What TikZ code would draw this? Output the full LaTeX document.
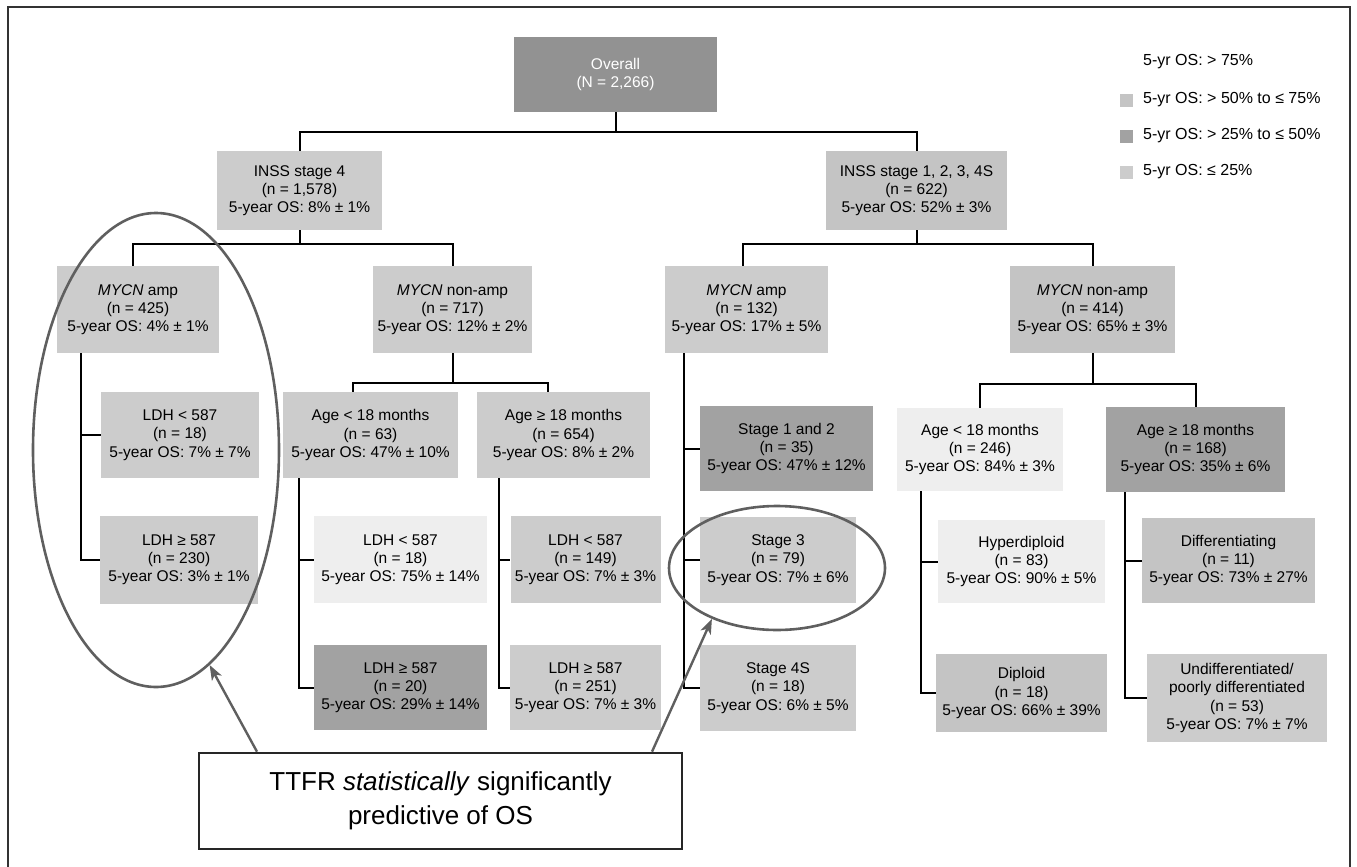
\documentclass[tikz,border=0pt]{standalone}
\usepackage{fontspec}
\setmainfont{Liberation Sans}
\usetikzlibrary{shapes.geometric,arrows.meta}

\definecolor{ovgrey}{RGB}{146,146,146}
\definecolor{darkgrey}{RGB}{162,162,162}
\definecolor{midgrey}{RGB}{196,196,196}
\definecolor{lowgrey}{RGB}{204,204,204}
\definecolor{palegrey}{RGB}{238,238,238}
\definecolor{ringgrey}{RGB}{95,95,95}

\newcommand{\cajafont}{\fontsize{15.5}{18.3}\selectfont}

\begin{document}
\begin{tikzpicture}[x=1pt, y=-1pt,
    caja/.style={inner sep=0pt, align=center, font=\cajafont, minimum height=86pt},
    lowbox/.style={caja, fill=lowgrey},
    midbox/.style={caja, fill=midgrey},
    darkbox/.style={caja, fill=darkgrey},
    palebox/.style={caja, fill=palegrey},
    tree/.style={line width=2pt, line join=miter},
    ring/.style={ellipse, draw=ringgrey, line width=2.6pt, inner sep=0pt},
    pointer/.style={draw=ringgrey, line width=2.4pt, -{Stealth[length=15pt,width=11pt,inset=4pt]}},
    swatch/.style={minimum size=13pt, inner sep=0pt},
    legtext/.style={anchor=west, inner sep=0pt, font=\fontsize{16}{19}\selectfont}]
    \useasboundingbox (0,0) rectangle (1357,867);

    % Marco
    \draw[line width=1.3pt, black!80] (8,867) -- (8,7) -- (1350,7) -- (1350,867);

    % Leyenda
    \node[legtext] (lt1) at (1143,62) {5-yr OS: > 75\%};
    \node[swatch, fill=midgrey] (sw2) at (1126.5,100) {};
    \node[legtext] (lt2) at (1143,100) {5-yr OS: > 50\% to ≤ 75\%};
    \node[swatch, fill=darkgrey] (sw3) at (1126.5,136) {};
    \node[legtext] (lt3) at (1143,136) {5-yr OS: > 25\% to ≤ 50\%};
    \node[swatch, fill=lowgrey] (sw4) at (1126.5,172) {};
    \node[legtext] (lt4) at (1143,172) {5-yr OS: ≤ 25\%};

    % Nivel 0 y 1
    \node[caja, fill=ovgrey, text=white, minimum width=203pt, minimum height=75pt] (ov) at (615.5,74.5) {Overall\\(N = 2,266)};
    \node[lowbox, minimum width=165pt, minimum height=79pt] (s4) at (299.5,190.5) {INSS stage 4\\(n = 1,578)\\5-year OS: 8\% ± 1\%};
    \node[midbox, minimum width=181pt, minimum height=79pt] (s1) at (916.5,190.5) {INSS stage 1, 2, 3, 4S\\(n = 622)\\5-year OS: 52\% ± 3\%};

    % Nivel 2
    \node[lowbox, minimum width=162pt, minimum height=87pt] (a1) at (138,309.5) {\textit{MYCN} amp\\(n = 425)\\5-year OS: 4\% ± 1\%};
    \node[lowbox, minimum width=159pt, minimum height=87pt] (n1) at (452.5,309.5) {\textit{MYCN} non-amp\\(n = 717)\\5-year OS: 12\% ± 2\%};
    \node[lowbox, minimum width=163pt, minimum height=87pt] (a2) at (746.5,309.5) {\textit{MYCN} amp\\(n = 132)\\5-year OS: 17\% ± 5\%};
    \node[midbox, minimum width=165pt, minimum height=87pt] (n2) at (1092.5,309.5) {\textit{MYCN} non-amp\\(n = 414)\\5-year OS: 65\% ± 3\%};

    % Rama MYCN amp (425)
    \node[lowbox, minimum width=158pt] (l1) at (180,435) {LDH < 587\\(n = 18)\\5-year OS: 7\% ± 7\%};
    \node[lowbox, minimum width=158pt, minimum height=88pt] (l2) at (179,559.5) {LDH ≥ 587\\(n = 230)\\5-year OS: 3\% ± 1\%};

    % Rama MYCN non-amp (717)
    \node[lowbox, minimum width=175pt] (g1) at (370.5,435) {Age < 18 months\\(n = 63)\\5-year OS: 47\% ± 10\%};
    \node[lowbox, minimum width=173pt] (g2) at (563.5,435) {Age ≥ 18 months\\(n = 654)\\5-year OS: 8\% ± 2\%};
    \node[palebox, minimum width=173pt, minimum height=87pt] (p1) at (400.5,559.5) {LDH < 587\\(n = 18)\\5-year OS: 75\% ± 14\%};
    \node[darkbox, minimum width=173pt, minimum height=85pt] (d1) at (400.5,687.5) {LDH ≥ 587\\(n = 20)\\5-year OS: 29\% ± 14\%};
    \node[lowbox, minimum width=150pt, minimum height=87pt] (q1) at (585.5,559.5) {LDH < 587\\(n = 149)\\5-year OS: 7\% ± 3\%};
    \node[lowbox, minimum width=151pt, minimum height=85pt] (q2) at (585.5,687.5) {LDH ≥ 587\\(n = 251)\\5-year OS: 7\% ± 3\%};

    % Rama MYCN amp (132)
    \node[darkbox, minimum width=173pt, minimum height=85pt] (t1) at (786.5,448.5) {Stage 1 and 2\\(n = 35)\\5-year OS: 47\% ± 12\%};
    \node[lowbox, minimum width=156pt] (t2) at (778,560) {Stage 3\\(n = 79)\\5-year OS: 7\% ± 6\%};
    \node[lowbox, minimum width=156pt] (t3) at (778,688) {Stage 4S\\(n = 18)\\5-year OS: 6\% ± 5\%};

    % Rama MYCN non-amp (414)
    \node[palebox, minimum width=166pt, minimum height=83pt] (h1) at (980,449.5) {Age < 18 months\\(n = 246)\\5-year OS: 84\% ± 3\%};
    \node[darkbox, minimum width=179pt, minimum height=85pt] (h2) at (1195.5,449.5) {Age ≥ 18 months\\(n = 168)\\5-year OS: 35\% ± 6\%};
    \node[palebox, minimum width=167pt, minimum height=83pt] (k1) at (1021.5,561.5) {Hyperdiploid\\(n = 83)\\5-year OS: 90\% ± 5\%};
    \node[midbox, minimum width=171pt, minimum height=78pt] (k2) at (1021.5,693) {Diploid\\(n = 18)\\5-year OS: 66\% ± 39\%};
    \node[midbox, minimum width=173pt, minimum height=85pt] (m1) at (1228.5,560.5) {Differentiating\\(n = 11)\\5-year OS: 73\% ± 27\%};
    \node[lowbox, minimum width=180pt, minimum height=88pt] (m2) at (1237,698) {Undifferentiated/\\poorly differentiated\\(n = 53)\\5-year OS: 7\% ± 7\%};

    % Conectores del arbol
    \draw[tree] (ov.south) -- ++(0,20) coordinate (b0);
    \draw[tree] (s4.north) |- (b0) -| (s1.north);
    \draw[tree] (s4.south) -- ++(0,14) coordinate (b1);
    \draw[tree] ([xshift=-5pt]a1.north) |- (b1) -| (n1.north);
    \draw[tree] (s1.south) -- ++(0,14) coordinate (b2);
    \draw[tree] ([xshift=-3.5pt]a2.north) |- (b2) -| (n2.north);
    \draw[tree] ([xshift=24pt]a1.south west) |- (l1.west);
    \draw[tree] ([xshift=24pt]a1.south west) |- (l2.west);
    \draw[tree] (n1.south) -- ++(0,30) coordinate (b3);
    \draw[tree] ([xshift=-17.5pt]g1.north) |- (b3) -| ([xshift=-15.5pt]g2.north);
    \draw[tree] ([xshift=16pt]g1.south west) |- (p1.west);
    \draw[tree] ([xshift=16pt]g1.south west) |- (d1.west);
    \draw[tree] ([xshift=22pt]g2.south west) |- (q1.west);
    \draw[tree] ([xshift=22pt]g2.south west) |- (q2.west);
    \draw[tree] ([xshift=19pt]a2.south west) |- (t1.west);
    \draw[tree] ([xshift=19pt]a2.south west) |- (t2.west);
    \draw[tree] ([xshift=19pt]a2.south west) |- (t3.west);
    \draw[tree] (n2.south) -- ++(0,31) coordinate (b4);
    \draw[tree] (h1.north) |- (b4) -| (h2.north);
    \draw[tree] ([xshift=24pt]h1.south west) |- (k1.west);
    \draw[tree] ([xshift=24pt]h1.south west) |- (k2.west);
    \draw[tree] ([xshift=19pt]h2.south west) |- (m1.west);
    \draw[tree] ([xshift=19pt]h2.south west) |- (m2.west);

    % Elipses y recuadro de nota
    \node[ring, minimum width=246pt, minimum height=474pt] (el1) at (156,450) {};
    \node[ring, minimum width=216pt, minimum height=124pt] (el2) at (777,568) {};
    \node[draw=black!85, line width=2.6pt, fill=white, inner sep=0pt, align=center,
          minimum width=483pt, minimum height=96pt, font=\fontsize{26}{34}\selectfont]
          (tt) at (440.5,801) {TTFR \textit{statistically} significantly\\predictive of OS};
    \draw[pointer] ([xshift=-183.5pt]tt.north) -- (el1.-76.7);
    \draw[pointer] ([xshift=211.5pt]tt.north) -- (el2.-142);
\end{tikzpicture}
\end{document}
